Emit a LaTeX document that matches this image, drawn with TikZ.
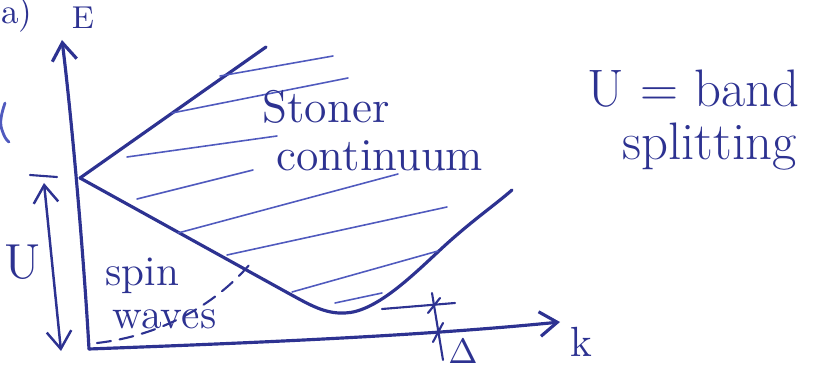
\documentclass[tikz,border=0pt]{standalone}
\usetikzlibrary{arrows.meta}
\definecolor{ink}{RGB}{45,50,145}
\definecolor{inklight}{RGB}{80,90,190}
\begin{document}
\begin{tikzpicture}[x=0.01cm,y=-0.01cm,
  main/.style={draw=ink, line width=0.9pt, line cap=round, line join=round},
  hatch/.style={draw=inklight, line width=0.45pt, line cap=round},
  barb/.style={-{Straight Barb[length=5pt,width=7pt]}},
  dbarb/.style={{Straight Barb[length=5pt,width=7pt]}-{Straight Barb[length=5pt,width=7pt]}},
  hand/.style={text=ink, inner sep=0pt, font=\fontsize{14}{16}\selectfont},
  tick/.style={draw=ink, line width=0.6pt, line cap=round}]
\useasboundingbox (0,0) rectangle (827,367);
% key points
\coordinate (O) at (89,349);
\coordinate (Etip) at (62,40);
\coordinate (V) at (80,178);
\coordinate (UL) at (266,47);
\coordinate (M) at (345,313);
\coordinate (R) at (512,190);
\coordinate (Ktip) at (560,322);
% axes
\draw[main,barb] (O) .. controls (84,260) and (72,120) .. (Etip);
\draw[main,barb] (O) .. controls (250,343) and (420,336) .. (Ktip);
% continuum boundaries
\draw[main] (V) -- (UL);
\draw[main] (V) -- (288,293) .. controls (310,305) and (325,314) .. (M)
  .. controls (375,312) and (410,278) .. (440,250)
  .. controls (470,222) and (495,205) .. (R);
% hatching
\draw[hatch] (220,76) -- (333,56);
\draw[hatch] (172,113) -- (348,78);
\draw[hatch] (127,157) -- (277,136);
\draw[hatch] (137,199) -- (253,170);
\draw[hatch] (178,233) -- (398,174);
\draw[hatch] (227,255) -- (447,207);
\draw[hatch] (292,292) -- (438,251);
\draw[hatch] (335,303) -- (382,293);
% spin waves (dashed)
\draw[main, line width=0.6pt, dash pattern=on 4pt off 2.5pt] (97,343) .. controls (160,336) and (215,305) .. (250,264);
% U arrow
\coordinate (Utop) at (44,183);
\coordinate (Ubot) at (61,351);
\draw[main, line width=0.7pt, dbarb] (Utop) -- (Ubot);
\draw[tick] (30,175) -- (57,177);
% Delta marks
\draw[tick] (432,293) -- (443,360);
\draw[tick] (382,309) -- (455,303);
\draw[tick] (428,313) -- (440,298);
\draw[tick] (433,342) -- (443,323);
% stray mark at left edge
\draw[draw=inklight, line width=0.8pt, line cap=round] (5,103) .. controls (2,112) and (-1,122) .. (2,130) .. controls (4,136) and (6,140) .. (9,142);
% labels
\node[hand, font=\fontsize{10}{12}\selectfont, anchor=east] (lbla) at (33,15) {a)};
\node[hand, font=\fontsize{9}{11}\selectfont] (lblE) at (83,18) {E};
\node[hand, font=\fontsize{12}{14}\selectfont] (lblk) at (581,342) {k};
\node[hand, font=\fontsize{10}{12}\selectfont] (lblD) at (463,351) {$\Delta$};
\node[hand] (lblU) at (23,262) {U};
\node[hand, font=\fontsize{12}{14}\selectfont, anchor=base west] (spin) at (105,285) {spin};
\node[hand, font=\fontsize{12}{14}\selectfont, anchor=base west] (waves) at (112,329) {waves};
\node[hand, font=\fontsize{13}{15}\selectfont, anchor=base west] (stoner) at (262,123) {Stoner};
\node[hand, font=\fontsize{13}{15}\selectfont, anchor=base west] (cont) at (276,171) {continuum};
\node[hand, font=\fontsize{15}{17}\selectfont, anchor=base west] (uband) at (587,107) {U = band};
\node[hand, font=\fontsize{15}{17}\selectfont, anchor=base west] (split) at (622,160) {splitting};
\end{tikzpicture}
\end{document}
